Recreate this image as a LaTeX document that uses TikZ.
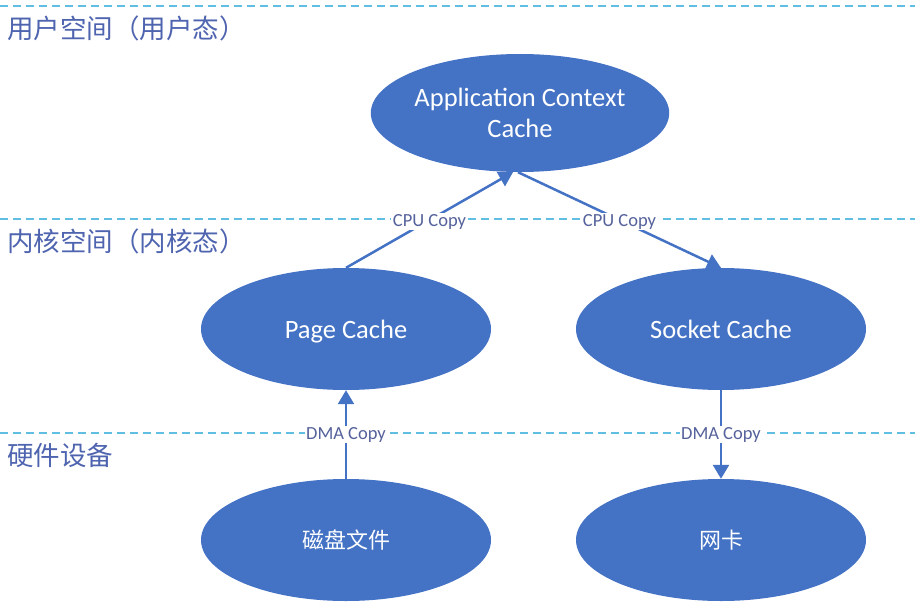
\documentclass[tikz,border=0pt]{standalone}
\usepackage{fontspec}
\setmainfont{Carlito}
\newfontfamily\cjk{Noto Sans CJK SC}
\usetikzlibrary{shapes.geometric,arrows.meta}
\definecolor{ellblue}{RGB}{68,114,196}
\definecolor{dashcol}{RGB}{95,190,225}
\definecolor{seclab}{RGB}{78,100,175}
\definecolor{edgelab}{RGB}{85,98,155}
\tikzset{
  ell/.style={ellipse, fill=ellblue, draw=none, minimum width=290pt, minimum height=122pt, inner sep=0pt, text=white, align=center, font=\fontsize{26.5}{31}\selectfont},
  cjkell/.style={ell, font=\cjk\fontsize{22}{26}\selectfont},
  sep/.style={dashcol, line width=1.1pt, dash pattern=on 8pt off 5pt},
  seclabel/.style={anchor=west, text=seclab, inner sep=0pt, font=\cjk\fontsize{26.5}{30}\selectfont},
  conn/.style={ellblue, line width=2.5pt, -{Triangle[length=14pt,width=16pt]}},
  elabel/.style={midway, fill=white, inner sep=1.5pt, text=edgelab, font=\fontsize{18.5}{21}\selectfont}
}
\begin{document}
\begin{tikzpicture}[x=1pt,y=-1pt]
\useasboundingbox (0,0) rectangle (915,607);
% separators
\coordinate (s1a) at (0,6);   \coordinate (s1b) at (915,6);
\coordinate (s2a) at (0,219); \coordinate (s2b) at (915,219);
\coordinate (s3a) at (0,433); \coordinate (s3b) at (915,433);
\draw[sep] (s1a) -- (s1b);
\draw[sep] (s2a) -- (s2b);
\draw[sep] (s3a) -- (s3b);
% section labels
\node[seclabel] (user) at (7,28) {用户空间（用户态）};
\node[seclabel] (kern) at (7,241) {内核空间（内核态）};
\node[seclabel] (hw) at (7,455) {硬件设备};
% ellipses
\node[ell, minimum height=118pt] (app) at (520,113) {Application Context\\Cache};
\node[ell] (page) at (346,329) {\raisebox{0pt}[\height][0pt]{Page Cache}};
\node[ell] (sock) at (721,329) {Socket Cache};
\node[cjkell] (disk) at (346,540) {磁盘文件};
\node[cjkell] (nic) at (721,540) {网卡};
% connectors
\draw[conn] (page.north) -- ([xshift=-7pt]app.south) node[elabel, yshift=-1.5pt] {CPU Copy};
\draw[conn] ([xshift=-2pt]app.south) -- (sock.north) node[elabel, yshift=-1.5pt] {CPU Copy};
\draw[conn] (disk.north) -- (page.south) node[elabel] {DMA Copy};
\draw[conn] (sock.south) -- (nic.north) node[elabel] {DMA Copy};
\end{tikzpicture}
\end{document}
